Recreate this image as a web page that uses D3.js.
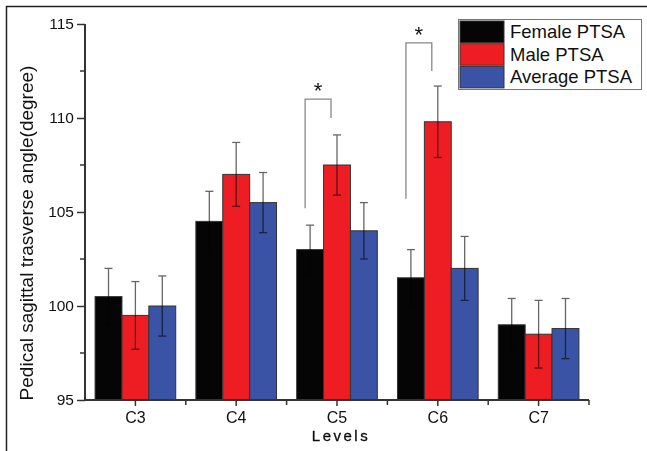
<!DOCTYPE html>
<html>
<head>
<meta charset="utf-8">
<script src="https://cdn.jsdelivr.net/npm/d3@7"></script>
<style>
  body { margin: 0; background: #fff; }
  text { font-family: "Liberation Sans", Arial, sans-serif; fill: #111; }
</style>
</head>
<body>
<div id="chart"></div>
<script>
// data
var levels = ["C3", "C4", "C5", "C6", "C7"];
var seriesNames = ["Female PTSA", "Male PTSA", "Average PTSA"];
var seriesColors = ["#050505", "#ee1d24", "#3a53a4"];
var female = [100.5, 104.5, 103.0, 101.5, 99.0];
var male = [99.5, 107.0, 107.5, 109.8, 98.5];
var average = [100.0, 105.5, 104.0, 102.0, 98.8];
var femaleErr = [1.5, 1.6, 1.3, 1.5, 1.4];
var maleErr = [1.8, 1.7, 1.6, 1.9, 1.8];
var averageErr = [1.6, 1.6, 1.5, 1.7, 1.6];
var yTicks = [95, 100, 105, 110, 115];
var yMinorTicks = [97.5, 102.5, 107.5, 112.5];
// significance brackets: level, top, bottom of left leg, bottom of right leg
var brackets = [
  {level: "C5", top: 111.0, left: 105.2, right: 110.0},
  {level: "C6", top: 114.0, left: 105.7, right: 112.5}
];

var W = 647, H = 451;
var margin = {top: 24, right: 58, bottom: 51, left: 85};

var svg = d3.select("#chart").append("svg")
  .attr("width", W).attr("height", H);

// outer frame (only left/top visible in the figure)
svg.append("rect")
  .attr("x", 6.5).attr("y", 6.5)
  .attr("width", W + 20).attr("height", H + 20)
  .attr("fill", "none").attr("stroke", "#222").attr("stroke-width", 1.5);

var x = d3.scaleBand()
  .domain(levels)
  .range([margin.left, W - margin.right])
  .paddingInner(0.2).paddingOuter(0.1);

var xs = d3.scaleBand()
  .domain(seriesNames)
  .range([0, x.bandwidth()]);

var y = d3.scaleLinear()
  .domain([95, 115])
  .range([H - margin.bottom, margin.top]);

var rows = [];
var vals = [female, male, average];
var errs = [femaleErr, maleErr, averageErr];
levels.forEach(function(l, i) {
  seriesNames.forEach(function(s, j) {
    rows.push({level: l, series: s, color: seriesColors[j], value: vals[j][i], err: errs[j][i]});
  });
});

// bars
svg.append("g").selectAll("rect")
  .data(rows).enter().append("rect")
    .attr("x", d => x(d.level) + xs(d.series))
    .attr("y", d => y(d.value))
    .attr("width", xs.bandwidth())
    .attr("height", d => y(95) - y(d.value))
    .attr("fill", d => d.color)
    .attr("stroke", "#333").attr("stroke-width", 1);

// error bars (multiplied so they darken the bar colour underneath)
var eb = svg.append("g")
  .attr("stroke", "#666").attr("stroke-width", 1.3)
  .style("mix-blend-mode", "multiply");
rows.forEach(function(d) {
  var cx = x(d.level) + xs(d.series) + xs.bandwidth() / 2;
  var lo = Math.max(95, d.value - d.err), hi = d.value + d.err;
  eb.append("line").attr("x1", cx).attr("x2", cx).attr("y1", y(lo)).attr("y2", y(hi));
  eb.append("line").attr("x1", cx - 4).attr("x2", cx + 4).attr("y1", y(hi)).attr("y2", y(hi));
  eb.append("line").attr("x1", cx - 4).attr("x2", cx + 4).attr("y1", y(lo)).attr("y2", y(lo));
});

// y axis
var yAxis = svg.append("g")
  .attr("transform", "translate(" + margin.left + ",0)")
  .call(d3.axisLeft(y).tickValues(yTicks).tickSize(8).tickPadding(3).tickFormat(d3.format("d")));
yAxis.append("g").selectAll("line")
  .data(yMinorTicks).enter().append("line")
    .attr("x1", -5).attr("x2", 0)
    .attr("y1", d => y(d)).attr("y2", d => y(d));
yAxis.selectAll("line").attr("stroke", "#333").attr("stroke-width", 1.5);
yAxis.select(".domain").attr("stroke", "#333").attr("stroke-width", 2)
  .attr("d", "M0," + y(115) + "V" + y(95));
yAxis.selectAll("text").style("font-size", "15.5px").attr("fill", "#111");

// x axis
var xAxis = svg.append("g")
  .attr("transform", "translate(0," + y(95) + ")")
  .call(d3.axisBottom(x).tickSize(6).tickPadding(6));
var bounds = levels.map(l => x(l) - x.step() * x.paddingInner() / 2).slice(1);
bounds.push(W - margin.right);
xAxis.append("g").selectAll("line")
  .data(bounds).enter().append("line")
    .attr("x1", d => d).attr("x2", d => d)
    .attr("y1", 0).attr("y2", 5);
xAxis.selectAll("line").attr("stroke", "#333").attr("stroke-width", 1.5);
xAxis.select(".domain").attr("stroke", "#333").attr("stroke-width", 2)
  .attr("d", "M" + margin.left + ",0H" + (W - margin.right));
xAxis.selectAll("text").style("font-size", "16px").attr("fill", "#111");

// axis titles
svg.append("text")
  .attr("transform", "translate(33," + 233 + ") rotate(-90)")
  .attr("text-anchor", "middle")
  .style("font-size", "19px")
  .text("Pedical sagittal trasverse angle(degree)");

svg.append("text")
  .attr("x", x("C5") + x.bandwidth() / 2 + 4).attr("y", 441)
  .attr("text-anchor", "middle")
  .style("font-size", "15px").style("letter-spacing", "2.5px")
  .attr("fill", "#000").attr("stroke", "#000").attr("stroke-width", 0.3)
  .text("Levels");

// significance brackets
var bg = svg.append("g");
brackets.forEach(function(b) {
  var lx = x(b.level) + xs(seriesNames[0]) + xs.bandwidth() / 2 - 5;
  var rx = x(b.level) + xs(seriesNames[1]) + xs.bandwidth() / 2 - 6;
  bg.append("path")
    .attr("d", "M" + lx + "," + y(b.left) + "V" + y(b.top) + "H" + rx + "V" + y(b.right))
    .attr("fill", "none").attr("stroke", "#888").attr("stroke-width", 1.3);
  bg.append("text")
    .attr("x", (lx + rx) / 2).attr("y", y(b.top) - 1)
    .attr("text-anchor", "middle")
    .style("font-size", "22px")
    .text("*");
});

// legend
var legend = svg.append("g").attr("transform", "translate(458,19)");
legend.append("rect")
  .attr("x", 0.5).attr("y", 0.5).attr("width", 183).attr("height", 70)
  .attr("fill", "#fff").attr("stroke", "#777").attr("stroke-width", 1);
seriesNames.forEach(function(s, i) {
  legend.append("rect")
    .attr("x", 2).attr("y", 2 + i * 22.7)
    .attr("width", 44).attr("height", 21.5)
    .attr("fill", seriesColors[i]).attr("stroke", "#333").attr("stroke-width", 1);
  legend.append("text")
    .attr("x", 52).attr("y", 19 + i * 22.7)
    .style("font-size", "18.5px")
    .text(s);
});
</script>
</body>
</html>
